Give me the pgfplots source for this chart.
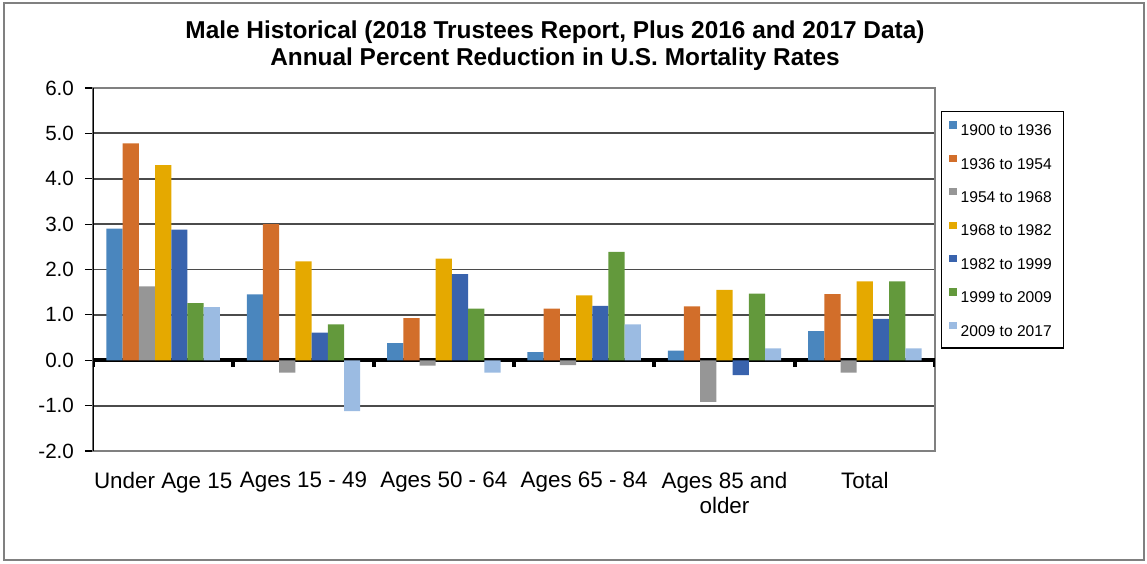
\documentclass[border=0pt]{standalone}
\usepackage{pgfplots}
\pgfplotsset{compat=1.18}
\usepackage{fontspec}
\setmainfont{Liberation Sans}

\definecolor{cA}{RGB}{74,134,190}
\definecolor{cB}{RGB}{210,110,42}
\definecolor{cC}{RGB}{150,150,150}
\definecolor{cD}{RGB}{229,169,0}
\definecolor{cE}{RGB}{57,99,173}
\definecolor{cF}{RGB}{99,153,60}
\definecolor{cG}{RGB}{155,187,226}
\definecolor{gridc}{RGB}{75,75,75}

\begin{document}
\begin{tikzpicture}
\useasboundingbox (0,0) rectangle (573.5pt,281.5pt);
\draw[gray, line width=1pt] (2pt,1.5pt) rectangle (572pt,280pt);

\node[font=\bfseries\fontsize{12.2}{13.5}\selectfont, align=center] at (277.5pt,258.5pt)
  {Male Historical (2018 Trustees Report, Plus 2016 and 2017 Data)\\Annual Percent Reduction in U.S. Mortality Rates};

\begin{axis}[
  at={(46.5pt,56pt)}, anchor=south west,
  scale only axis, width=421pt, height=181.5pt,
  xmin=-0.5, xmax=5.5, ymin=-2, ymax=6,
  ybar=0pt, bar width=0.1155,
  xtick={0,1,2,3,4,5},
  xticklabels={Under Age 15,Ages 15 - 49,Ages 50 - 64,Ages 65 - 84,{Ages 85 and\\older},Total},
  xticklabel style={font=\fontsize{11.2}{12.5}\selectfont, align=center, yshift=-3pt, anchor=north},
  x tick style={draw=none},
  ytick={-2,-1,...,6}, ytick pos=left,
  yticklabel style={font=\fontsize{10.3}{12}\selectfont, xshift=-2pt},
  /pgf/number format/assume math mode=true,
  /pgf/number format/.cd, fixed, fixed zerofill, precision=1, /pgfplots/.cd,
  y tick style={black, line width=0.6pt},
  tick align=outside, major tick length=4pt,
  ymajorgrids, grid style={gridc, line width=0.9pt},
  axis line style={gray, line width=0.8pt},
  extra y ticks={0}, extra y tick labels={},
  extra y tick style={grid style={black, line width=2pt}, tick style={draw=none}},
  legend cell align=left,
  legend image code/.code={\fill[#1] (0.5pt,0.6pt) rectangle (4.1pt,4.2pt);},
  legend style={at={(1.007,0.937)}, anchor=north west, draw=black, line width=0.6pt,
    font=\fontsize{7.8}{9}\selectfont, row sep=8.6pt, inner xsep=4pt, inner ysep=5pt,
    nodes={inner xsep=2pt, inner ysep=1pt, text height=5.8pt, text depth=0pt}},
]
\addplot[fill=cA, draw=none] coordinates {(0,2.9) (1,1.45) (2,0.38) (3,0.18) (4,0.21) (5,0.64)};
\addplot[fill=cB, draw=none] coordinates {(0,4.78) (1,3.0) (2,0.93) (3,1.14) (4,1.19) (5,1.46)};
\addplot[fill=cC, draw=none] coordinates {(0,1.63) (1,-0.27) (2,-0.12) (3,-0.11) (4,-0.92) (5,-0.27)};
\addplot[fill=cD, draw=none] coordinates {(0,4.3) (1,2.18) (2,2.24) (3,1.43) (4,1.55) (5,1.74)};
\addplot[fill=cE, draw=none] coordinates {(0,2.88) (1,0.61) (2,1.9) (3,1.2) (4,-0.33) (5,0.91)};
\addplot[fill=cF, draw=none] coordinates {(0,1.26) (1,0.79) (2,1.14) (3,2.39) (4,1.47) (5,1.74)};
\addplot[fill=cG, draw=none] coordinates {(0,1.17) (1,-1.12) (2,-0.27) (3,0.79) (4,0.26) (5,0.26)};
\legend{1900 to 1936,1936 to 1954,1954 to 1968,1968 to 1982,1982 to 1999,1999 to 2009,2009 to 2017}

\draw[black, line width=0.8pt] (rel axis cs:0,0) -- (rel axis cs:0,1);
\draw[black, line width=2pt] (axis cs:-0.5,0) -- ([yshift=-3.5pt]axis cs:-0.5,0);
\draw[black, line width=2pt] (axis cs:0.5,0) -- ([yshift=-3.5pt]axis cs:0.5,0);
\draw[black, line width=2pt] (axis cs:1.5,0) -- ([yshift=-3.5pt]axis cs:1.5,0);
\draw[black, line width=2pt] (axis cs:2.5,0) -- ([yshift=-3.5pt]axis cs:2.5,0);
\draw[black, line width=2pt] (axis cs:3.5,0) -- ([yshift=-3.5pt]axis cs:3.5,0);
\draw[black, line width=2pt] (axis cs:4.5,0) -- ([yshift=-3.5pt]axis cs:4.5,0);
\draw[black, line width=2pt] (axis cs:5.5,0) -- ([yshift=-3.5pt]axis cs:5.5,0);
\end{axis}
\end{tikzpicture}
\end{document}
